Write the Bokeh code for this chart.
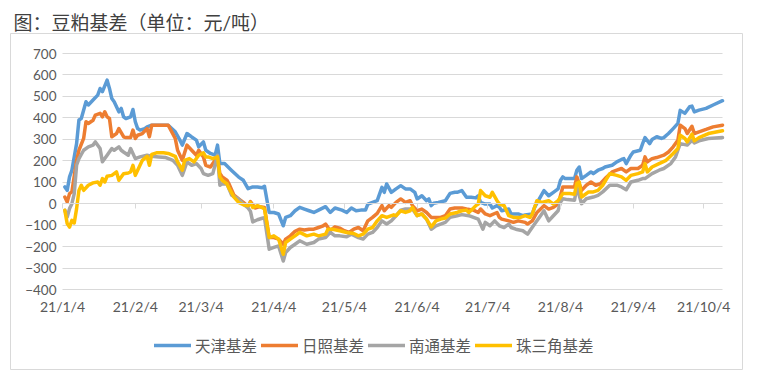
import pandas as pd
from bokeh.plotting import figure
from bokeh.models import (Range1d, LinearAxis, FixedTicker, Grid, Legend,
                          LegendItem, ColumnDataSource, Title)
from bokeh.embed import file_html
from bokeh.resources import INLINE

YEAR = "2021-"
title_text = "图：豆粕基差（单位：元/吨）"
series_names = ["天津基差", "日照基差", "南通基差", "珠三角基差"]
series_colors = ["#5B9BD5", "#ED7D31", "#A5A5A5", "#FFC000"]

x_tick_dates = ["01-04", "02-04", "03-04", "04-04", "05-04",
                "06-04", "07-04", "08-04", "09-04", "10-04"]
x_tick_labels = ["21/1/4", "21/2/4", "21/3/4", "21/4/4", "21/5/4",
                 "21/6/4", "21/7/4", "21/8/4", "21/9/4", "21/10/4"]
y_ticks = [-400, -300, -200, -100, 0, 100, 200, 300, 400, 500, 600, 700]
x_first, x_last = "01-04", "10-12"

tianjin = [
    ("01-05", 78), ("01-06", 62), ("01-07", 125), ("01-08", 156), ("01-10", 280), ("01-11", 390),
    ("01-12", 397), ("01-14", 475), ("01-15", 460), ("01-17", 483), ("01-19", 506), ("01-20", 537),
    ("01-21", 522), ("01-23", 576), ("01-24", 537), ("01-25", 490), ("01-26", 475), ("01-28", 428),
    ("01-29", 444), ("01-30", 405), ("01-31", 397),
    ("02-02", 405), ("02-03", 439), ("02-04", 382), ("02-05", 350), ("02-06", 343), ("02-08", 350),
    ("02-09", 358), ("02-11", 366), ("02-18", 366), ("02-21", 335), ("02-23", 296), ("02-24", 273),
    ("02-26", 327), ("02-28", 311),
    ("03-02", 296), ("03-03", 265), ("03-05", 288), ("03-06", 249), ("03-08", 234), ("03-10", 226),
    ("03-11", 273), ("03-12", 187), ("03-14", 187), ("03-17", 155), ("03-20", 124), ("03-22", 109),
    ("03-24", 70), ("03-26", 78), ("03-28", 78), ("03-30", 74), ("03-31", 81),
    ("04-02", -41), ("04-04", -41), ("04-06", -48), ("04-08", -103), ("04-09", -64), ("04-11", -56),
    ("04-13", -33), ("04-15", -17), ("04-17", -25), ("04-19", -33), ("04-21", -41), ("04-23", -30),
    ("04-26", -14), ("04-28", -41), ("04-30", -20),
    ("05-03", -30), ("05-05", -41), ("05-07", -20), ("05-09", -33), ("05-11", -30), ("05-13", -30),
    ("05-14", -2), ("05-16", 6), ("05-18", 14), ("05-20", 76), ("05-21", 53), ("05-22", 92),
    ("05-24", 53), ("05-26", 69), ("05-28", 84), ("05-30", 69),
    ("06-01", 69), ("06-03", 53), ("06-04", 22), ("06-06", 37), ("06-08", 14), ("06-09", 22),
    ("06-10", -9), ("06-11", 2), ("06-13", 6), ("06-16", 14), ("06-18", 48), ("06-20", 53),
    ("06-21", 53), ("06-23", 61), ("06-25", 30), ("06-27", 30), ("06-29", 27), ("06-30", 37),
    ("07-01", 6), ("07-03", -2), ("07-05", -2), ("07-06", -20), ("07-08", -9), ("07-09", -17),
    ("07-10", -33), ("07-13", -25), ("07-14", -48), ("07-17", -48), ("07-19", -56), ("07-20", -53),
    ("07-23", -48), ("07-24", -17), ("07-26", 22), ("07-28", 61), ("07-30", 37),
    ("08-01", 53), ("08-03", 69), ("08-04", 108), ("08-05", 125), ("08-06", 117), ("08-08", 117),
    ("08-10", 117), ("08-11", 156), ("08-12", 171), ("08-13", 117), ("08-15", 132), ("08-17", 148),
    ("08-18", 140), ("08-20", 156), ("08-22", 164), ("08-23", 171), ("08-26", 179), ("08-28", 195),
    ("08-30", 206), ("08-31", 210),
    ("09-01", 187), ("09-03", 226), ("09-04", 241), ("09-07", 249), ("09-08", 280), ("09-09", 308),
    ("09-11", 280), ("09-12", 299), ("09-14", 312), ("09-16", 304), ("09-17", 308), ("09-19", 327),
    ("09-21", 350), ("09-23", 374), ("09-24", 435), ("09-26", 421), ("09-28", 452), ("09-29", 455),
    ("09-30", 428),
    ("10-02", 436), ("10-05", 444), ("10-08", 460), ("10-12", 480),
]

rizhao = [
    ("01-05", 31), ("01-06", 8), ("01-07", 47), ("01-08", 55), ("01-10", 202), ("01-11", 249),
    ("01-13", 304), ("01-14", 382), ("01-15", 374), ("01-17", 389), ("01-18", 413), ("01-20", 421),
    ("01-21", 405), ("01-22", 428), ("01-23", 405), ("01-24", 397), ("01-25", 312), ("01-27", 327),
    ("01-28", 350), ("01-30", 312), ("01-31", 308),
    ("02-02", 308), ("02-03", 343), ("02-04", 304), ("02-05", 319), ("02-07", 327), ("02-09", 350),
    ("02-10", 312), ("02-11", 366), ("02-18", 366), ("02-21", 304), ("02-22", 249), ("02-24", 202),
    ("02-26", 273), ("02-28", 249),
    ("03-02", 226), ("03-03", 249), ("03-05", 218), ("03-06", 179), ("03-08", 171), ("03-09", 187),
    ("03-11", 218), ("03-12", 140), ("03-13", 125), ("03-15", 110), ("03-16", 90), ("03-18", 40),
    ("03-20", 22), ("03-22", 6), ("03-24", -12), ("03-25", 10), ("03-27", -20), ("03-29", -14),
    ("03-31", -18),
    ("04-02", -158), ("04-04", -158), ("04-06", -165), ("04-08", -189), ("04-09", -165), ("04-11", -150),
    ("04-13", -129), ("04-15", -119), ("04-17", -123), ("04-19", -119), ("04-21", -119), ("04-23", -111),
    ("04-25", -103), ("04-26", -95), ("04-28", -126), ("04-30", -108),
    ("05-02", -114), ("05-04", -126), ("05-06", -134), ("05-08", -119), ("05-10", -111), ("05-12", -126),
    ("05-14", -80), ("05-16", -64), ("05-18", -45), ("05-20", -9), ("05-21", -33), ("05-23", -9),
    ("05-24", -17), ("05-26", 6), ("05-28", 22), ("05-30", 6),
    ("06-01", 14), ("06-02", -9), ("06-04", -33), ("06-06", -25), ("06-08", -41), ("06-10", -64),
    ("06-12", -64), ("06-14", -64), ("06-16", -56), ("06-18", -25), ("06-20", -20), ("06-23", -20),
    ("06-25", -25), ("06-28", -30), ("06-30", -41),
    ("07-01", -25), ("07-03", -48), ("07-05", -56), ("07-08", -41), ("07-09", -64), ("07-10", -72),
    ("07-13", -80), ("07-15", -87), ("07-17", -80), ("07-20", -87), ("07-21", -95), ("07-23", -80),
    ("07-25", -41), ("07-27", -20), ("07-28", -9), ("07-30", -25),
    ("08-01", -17), ("08-03", -2), ("08-04", 37), ("08-05", 78), ("08-08", 78), ("08-10", 78),
    ("08-11", 125), ("08-13", 62), ("08-15", 86), ("08-17", 101), ("08-19", 86), ("08-21", 93),
    ("08-23", 117), ("08-26", 148), ("08-28", 156), ("08-30", 164),
    ("09-01", 148), ("09-03", 164), ("09-06", 164), ("09-08", 179), ("09-09", 218), ("09-10", 195),
    ("09-12", 210), ("09-14", 215), ("09-17", 226), ("09-19", 241), ("09-21", 265), ("09-23", 296),
    ("09-24", 366), ("09-26", 350), ("09-27", 327), ("09-29", 361), ("09-30", 327),
    ("10-02", 335), ("10-05", 346), ("10-08", 358), ("10-12", 366),
]

nantong = [
    ("01-05", -31), ("01-06", -62), ("01-07", -23), ("01-08", 0), ("01-09", 47), ("01-10", 179),
    ("01-11", 210), ("01-13", 249), ("01-15", 265), ("01-17", 273), ("01-18", 288), ("01-20", 257),
    ("01-21", 195), ("01-23", 226), ("01-25", 257), ("01-26", 249), ("01-28", 265), ("01-29", 249),
    ("01-30", 241),
    ("02-01", 226), ("02-02", 257), ("02-04", 210), ("02-06", 218), ("02-09", 226), ("02-11", 221),
    ("02-14", 218), ("02-17", 215), ("02-20", 202), ("02-22", 179), ("02-24", 132), ("02-26", 195),
    ("02-28", 179),
    ("03-02", 187), ("03-04", 164), ("03-05", 140), ("03-07", 132), ("03-09", 140), ("03-11", 226),
    ("03-12", 86), ("03-13", 93), ("03-15", 92), ("03-17", 40), ("03-20", 22), ("03-22", -2),
    ("03-24", -20), ("03-25", -35), ("03-26", -85), ("03-28", -75), ("03-30", -68), ("03-31", -65),
    ("04-02", -212), ("04-04", -204), ("04-06", -197), ("04-08", -267), ("04-09", -228), ("04-11", -204),
    ("04-13", -189), ("04-15", -173), ("04-18", -189), ("04-21", -181), ("04-23", -165), ("04-26", -158),
    ("04-28", -134), ("04-30", -150),
    ("05-02", -150), ("05-05", -154), ("05-07", -142), ("05-10", -158), ("05-12", -165), ("05-14", -142),
    ("05-16", -134), ("05-18", -111), ("05-20", -80), ("05-22", -95), ("05-24", -80), ("05-26", -56),
    ("05-28", -30), ("05-30", -25),
    ("06-02", -25), ("06-04", -56), ("06-06", -48), ("06-08", -72), ("06-10", -119), ("06-12", -103),
    ("06-14", -95), ("06-16", -87), ("06-18", -64), ("06-21", -56), ("06-23", -51), ("06-26", -56),
    ("06-28", -64), ("06-30", -72),
    ("07-02", -119), ("07-03", -87), ("07-05", -103), ("07-07", -80), ("07-09", -103), ("07-11", -111),
    ("07-13", -95), ("07-14", -111), ("07-16", -119), ("07-19", -126), ("07-21", -142), ("07-22", -126),
    ("07-24", -95), ("07-26", -64), ("07-28", -33), ("07-30", -80),
    ("08-01", -56), ("08-03", -33), ("08-04", 6), ("08-05", 23), ("08-07", 19), ("08-10", 16),
    ("08-11", 78), ("08-13", 0), ("08-15", 23), ("08-18", 31), ("08-20", 39), ("08-22", 55),
    ("08-25", 86), ("08-28", 86), ("08-30", 78),
    ("09-01", 65), ("09-03", 101), ("09-06", 109), ("09-08", 117), ("09-09", 117), ("09-12", 140),
    ("09-15", 156), ("09-17", 164), ("09-20", 187), ("09-22", 218), ("09-23", 249), ("09-24", 280),
    ("09-27", 273), ("09-29", 296), ("09-30", 283),
    ("10-02", 293), ("10-06", 304), ("10-12", 308),
]

zhusanjiao = [
    ("01-05", -31), ("01-06", -93), ("01-07", -109), ("01-08", -78), ("01-09", -90), ("01-10", -23),
    ("01-11", 62), ("01-12", 86), ("01-13", 62), ("01-15", 86), ("01-17", 97), ("01-19", 101),
    ("01-20", 86), ("01-21", 117), ("01-22", 101), ("01-23", 128), ("01-25", 132), ("01-27", 148),
    ("01-28", 109), ("01-30", 140),
    ("02-01", 143), ("02-02", 148), ("02-03", 179), ("02-04", 132), ("02-06", 179), ("02-07", 202),
    ("02-09", 221), ("02-10", 179), ("02-11", 230), ("02-13", 237), ("02-16", 237), ("02-18", 234),
    ("02-21", 221), ("02-22", 195), ("02-24", 156), ("02-25", 202), ("02-27", 210),
    ("03-01", 195), ("03-03", 226), ("03-05", 237), ("03-06", 218), ("03-07", 218), ("03-09", 210),
    ("03-11", 218), ("03-12", 125), ("03-13", 109), ("03-15", 93), ("03-16", 70), ("03-18", 31),
    ("03-20", 6), ("03-22", -5), ("03-24", -10), ("03-25", 5), ("03-26", -18), ("03-28", -9),
    ("03-30", -18), ("03-31", -25),
    ("04-02", -158), ("04-04", -150), ("04-06", -165), ("04-08", -236), ("04-09", -181), ("04-11", -165),
    ("04-13", -150), ("04-15", -134), ("04-18", -150), ("04-21", -142), ("04-23", -150), ("04-26", -142),
    ("04-27", -119), ("04-29", -119),
    ("05-02", -126), ("05-05", -134), ("05-08", -139), ("05-10", -150), ("05-12", -142), ("05-14", -119),
    ("05-16", -111), ("05-18", -80), ("05-20", -56), ("05-22", -64), ("05-25", -52), ("05-26", -56),
    ("05-28", -33), ("05-30", -41),
    ("06-01", -33), ("06-02", -17), ("06-04", -56), ("06-06", -48), ("06-08", -72), ("06-10", -108),
    ("06-12", -80), ("06-14", -72), ("06-16", -67), ("06-18", -48), ("06-21", -41), ("06-23", -33),
    ("06-25", -30), ("06-26", -41), ("06-28", -20), ("06-29", -9), ("06-30", -2),
    ("07-01", 61), ("07-03", 37), ("07-05", 30), ("07-06", 53), ("07-08", 14), ("07-09", -2),
    ("07-11", -9), ("07-13", -56), ("07-15", -64), ("07-18", -64), ("07-20", -56), ("07-22", -64),
    ("07-23", -48), ("07-25", 14), ("07-27", 6), ("07-30", 14),
    ("08-01", -2), ("08-03", 14), ("08-04", 30), ("08-05", 47), ("08-08", 47), ("08-10", 44),
    ("08-11", 95), ("08-12", 101), ("08-13", 31), ("08-16", 55), ("08-18", 55), ("08-20", 62),
    ("08-22", 86), ("08-25", 140), ("08-28", 132), ("08-30", 125),
    ("09-01", 109), ("09-03", 132), ("09-06", 140), ("09-08", 148), ("09-09", 187), ("09-10", 148),
    ("09-12", 171), ("09-15", 187), ("09-18", 202), ("09-21", 234), ("09-23", 257), ("09-24", 319),
    ("09-26", 304), ("09-27", 288), ("09-29", 324), ("09-30", 293),
    ("10-02", 308), ("10-06", 327), ("10-12", 340),
]

all_series = [tianjin, rizhao, nantong, zhusanjiao]


def to_ms(md):
    return pd.Timestamp(YEAR + md).value / 1e6


# ---- layout (pixels) ----
FIG_W, FIG_H = 759, 373
B_LEFT, B_RIGHT, B_TOP, B_BOTTOM = 10, 17, 33, 4
FRAME_W = FIG_W - B_LEFT - B_RIGHT
FRAME_H = FIG_H - B_TOP - B_BOTTOM
PAD_L, PAD_R, PAD_T, PAD_B = 52, 20, 20, 80

x_lo, x_hi = to_ms(x_first), to_ms(x_last)
ms_px = (x_hi - x_lo) / (FRAME_W - PAD_L - PAD_R)
y_lo, y_hi = y_ticks[0], y_ticks[-1]
u_px = (y_hi - y_lo) / (FRAME_H - PAD_T - PAD_B)

GRID = "#D9D9D9"
LABEL = "#595959"

p = figure(width=FIG_W, height=FIG_H, output_backend="svg", toolbar_location=None,
           x_axis_type=None, y_axis_type=None,
           x_range=Range1d(x_lo - PAD_L * ms_px, x_hi + PAD_R * ms_px),
           y_range=Range1d(y_lo - PAD_B * u_px, y_hi + PAD_T * u_px),
           min_border_left=B_LEFT, min_border_right=B_RIGHT,
           min_border_top=B_TOP, min_border_bottom=B_BOTTOM)
p.outline_line_color = GRID
p.outline_line_width = 1
p.background_fill_color = "white"
p.border_fill_color = "white"

# title first, then a small spacer placed between the title and the frame
main_title = Title(text=title_text, text_font="Lato, Noto Sans CJK SC", text_font_size="19px",
                   text_font_style="normal", text_color="#404040", standoff=0, offset=3)
p.add_layout(main_title, "above")
spacer = Title(text=" ", text_font_size="1px", standoff=9, text_color=None)
p.add_layout(spacer, "above")

tick_ms = [to_ms(d) for d in x_tick_dates]

grid = Grid(dimension=1, ticker=FixedTicker(ticks=y_ticks), grid_line_color=GRID,
            grid_line_width=1, cross_bounds=(x_lo, x_hi))
p.add_layout(grid)

yaxis = LinearAxis(ticker=FixedTicker(ticks=y_ticks), fixed_location=x_lo,
                   axis_line_color=None, major_tick_line_color=None,
                   minor_tick_line_color=None, major_tick_out=0, major_tick_in=0,
                   major_label_standoff=6,
                   major_label_text_font="Lato", major_label_text_font_size="13.5px",
                   major_label_text_color=LABEL)
p.add_layout(yaxis, "left")

xaxis = LinearAxis(ticker=FixedTicker(ticks=tick_ms), fixed_location=y_lo,
                   major_label_overrides=dict(zip(tick_ms, x_tick_labels)),
                   axis_line_color=None, major_tick_line_color=None,
                   minor_tick_line_color=None, major_tick_out=0, major_tick_in=0,
                   major_label_standoff=8,
                   major_label_text_font="Lato", major_label_text_font_size="14px",
                   major_label_text_color=LABEL)
p.add_layout(xaxis, "below")

zero_axis = LinearAxis(ticker=FixedTicker(ticks=tick_ms), fixed_location=0,
                       bounds=(x_lo, x_hi), axis_line_color=GRID,
                       major_tick_line_color=GRID, major_tick_out=5, major_tick_in=0,
                       minor_tick_line_color=None, major_label_text_color=None,
                       major_label_text_font_size="1px", major_label_standoff=0)
p.add_layout(zero_axis, "below")

items = []
for name, color, data in zip(series_names, series_colors, all_series):
    src = ColumnDataSource(dict(x=[to_ms(d) for d, _ in data], y=[v for _, v in data]))
    r = p.line("x", "y", source=src, line_color=color, line_width=3.5,
               line_join="round", line_cap="round")
    items.append(LegendItem(label=name, renderers=[r]))

legend = Legend(items=items, orientation="horizontal", location=(144, 13),
                border_line_color=None, background_fill_alpha=0, padding=0,
                spacing=4, label_standoff=4, glyph_width=37, glyph_height=20,
                label_height=20, margin=0,
                label_text_font="Noto Sans CJK SC", label_text_font_size="15.5px",
                label_text_color=LABEL)
p.add_layout(legend)

open("out.html", "w").write(file_html(p, INLINE))
